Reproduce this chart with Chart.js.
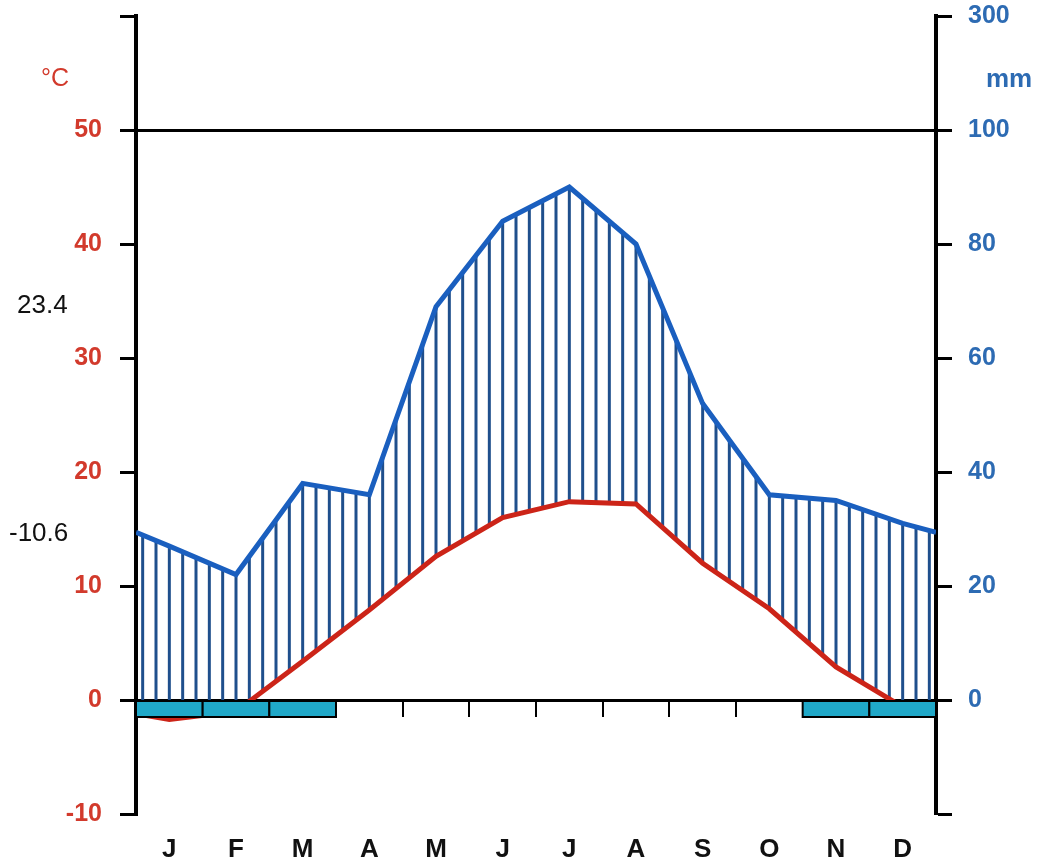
<!DOCTYPE html>
<html>
<head>
<meta charset="utf-8">
<script src="https://cdn.jsdelivr.net/npm/chart.js@4"></script>
<style>
html,body{margin:0;padding:0;background:#fff;}
canvas{display:block;}
</style>
</head>
<body>
<canvas id="c" width="1038" height="863"></canvas>
<script>
// ---- data ----
const months = ['J','F','M','A','M','J','J','A','S','O','N','D'];
const tempC = [-1.7, -1.0, 3.4, 7.9, 12.6, 16.0, 17.4, 17.2, 12.0, 8.0, 2.9, -0.6];
const precipMm = [27, 22, 38, 36, 69, 84, 90, 80, 52, 36, 35, 31];
const edgeTemp = -1.2;     // value drawn at the year's start/end edge
const edgePrecip = 29.4;
const frostMonths = [1, 1, 1, 0, 0, 0, 0, 0, 0, 0, 1, 1];
const tempTicks = [-10, 0, 10, 20, 30, 40, 50, 60];
const tempTickLabels = ['-10', '0', '10', '20', '30', '40', '50', ''];
const precipTicks = [-20, 0, 20, 40, 60, 80, 100, 120];
const precipTickLabels = ['', '0', '20', '40', '60', '80', '100', '300'];
const tempUnit = '°C';
const precipUnit = 'mm';
const sideLabels = ['23.4', '-10.6'];

// ---- styles ----
const RED = '#cc2418', BLUE = '#1a5fbf', HATCH = '#1f4f8c', CYAN = '#20a8c8';
const RED_TXT = '#d23a2c', BLUE_TXT = '#2d6bb3';
const FONT = '"Liberation Sans", Arial, sans-serif';

function series(vals, edge) {
  const pts = [{x: 0, y: edge}];
  vals.forEach((v, i) => pts.push({x: i + 0.5, y: v}));
  pts.push({x: 12, y: edge});
  return pts;
}
const tempPts = series(tempC, edgeTemp);
const precipPts = series(precipMm, edgePrecip);

function interp(pts, x) {
  for (let i = 0; i < pts.length - 1; i++) {
    const a = pts[i], b = pts[i + 1];
    if (x >= a.x && x <= b.x) return a.y + (b.y - a.y) * (x - a.x) / (b.x - a.x);
  }
  return pts[pts.length - 1].y;
}

const hatchPlugin = {
  id: 'hatch',
  beforeDatasetsDraw(chart) {
    const {ctx, scales: {x, y, y2}} = chart;
    ctx.save();
    ctx.strokeStyle = HATCH;
    ctx.lineWidth = 3;
    for (let k = 0; k < 60; k++) {
      const xv = (k + 0.5) / 5;
      const t = Math.max(interp(tempPts, xv), 0);
      const p = interp(precipPts, xv);
      const px = x.getPixelForValue(xv);
      const yLow = y.getPixelForValue(t);
      const yHigh = y2.getPixelForValue(p);
      if (yHigh < yLow) {
        ctx.beginPath();
        ctx.moveTo(px, yLow);
        ctx.lineTo(px, yHigh);
        ctx.stroke();
      }
    }
    ctx.restore();
  },
  afterDatasetsDraw(chart) {
    const {ctx, scales: {x, y}} = chart;
    const y0 = y.getPixelForValue(0);
    const h = 17;
    ctx.save();
    // month boundary ticks
    ctx.strokeStyle = '#000';
    ctx.lineWidth = 2;
    for (let m = 1; m < 12; m++) {
      const px = Math.round(x.getPixelForValue(m));
      ctx.beginPath();
      ctx.moveTo(px, y0);
      ctx.lineTo(px, y0 + h);
      ctx.stroke();
    }
    // frost boxes
    frostMonths.forEach((f, i) => {
      if (!f) return;
      const x1 = x.getPixelForValue(i), x2 = x.getPixelForValue(i + 1);
      ctx.fillStyle = CYAN;
      ctx.fillRect(x1, y0 + 1, x2 - x1, h - 1);
      ctx.strokeStyle = '#000';
      ctx.lineWidth = 2;
      ctx.strokeRect(x1, y0 + 1, x2 - x1, h - 1);
    });
    ctx.restore();
  },
  afterDraw(chart) {
    const {ctx} = chart;
    ctx.save();
    ctx.textBaseline = 'middle';
    ctx.textAlign = 'center';
    ctx.fillStyle = RED_TXT;
    ctx.font = '25px ' + FONT;
    ctx.fillText(tempUnit, 55, 79);
    ctx.fillStyle = BLUE_TXT;
    ctx.font = 'bold 26px ' + FONT;
    ctx.fillText(precipUnit, 1009, 80);
    ctx.fillStyle = '#111';
    ctx.font = '26px ' + FONT;
    ctx.textAlign = 'left';
    ctx.fillText(sideLabels[0], 17, 306);
    ctx.fillText(sideLabels[1], 9, 534);
    ctx.restore();
  }
};

function fixV(w) {
  return function (s) { s.width = w; s.paddingTop = 0; s.paddingBottom = 0; };
}

new Chart(document.getElementById('c'), {
  type: 'line',
  data: {
    datasets: [
      {
        label: 'Temperature',
        data: tempPts,
        yAxisID: 'y',
        borderColor: RED,
        borderWidth: 5,
        pointRadius: 0,
        tension: 0,
        fill: false
      },
      {
        label: 'Precipitation',
        data: precipPts,
        yAxisID: 'y2',
        borderColor: BLUE,
        borderWidth: 5,
        pointRadius: 0,
        tension: 0,
        fill: false
      }
    ]
  },
  options: {
    responsive: false,
    animation: false,
    devicePixelRatio: 1,
    layout: {autoPadding: false, padding: {top: 16, left: 0, right: 0, bottom: 0}},
    plugins: {legend: {display: false}, tooltip: {enabled: false}},
    scales: {
      x: {
        type: 'linear',
        min: 0, max: 12,
        afterBuildTicks(s) { s.ticks = months.map((m, i) => ({value: i + 0.5})); },
        afterFit(s) { s.height = 49; s.paddingLeft = 0; s.paddingRight = 0; },
        border: {display: false},
        grid: {display: false, drawTicks: false},
        ticks: {
          autoSkip: false, maxRotation: 0,
          padding: 20,
          color: '#111',
          font: {family: FONT, size: 26, weight: 'bold'},
          callback: (v, i) => months[i]
        }
      },
      y: {
        type: 'linear',
        position: 'left',
        min: -10, max: 60,
        afterBuildTicks(s) { s.ticks = tempTicks.map(v => ({value: v})); },
        afterFit: fixV(136),
        border: {display: true, color: '#000', width: 4},
        grid: {
          color: c => (c.tick && (c.tick.value === 0 || c.tick.value === 50)) ? '#000' : 'rgba(0,0,0,0)',
          lineWidth: 3,
          tickColor: '#000',
          tickWidth: 3,
          tickLength: 16,
          drawTicks: true
        },
        ticks: {
          padding: 18,
          color: RED_TXT,
          font: {family: FONT, size: 25, weight: 'bold'},
          callback: (v) => tempTickLabels[tempTicks.indexOf(v)]
        }
      },
      y2: {
        type: 'linear',
        position: 'right',
        min: -20, max: 120,
        afterBuildTicks(s) { s.ticks = precipTicks.map(v => ({value: v})); },
        afterFit: fixV(102),
        border: {display: true, color: '#000', width: 4},
        grid: {
          drawOnChartArea: false,
          tickColor: '#000',
          tickWidth: 3,
          tickLength: 16,
          drawTicks: true
        },
        ticks: {
          padding: 16,
          color: BLUE_TXT,
          font: {family: FONT, size: 25, weight: 'bold'},
          callback: (v) => precipTickLabels[precipTicks.indexOf(v)]
        }
      }
    }
  },
  plugins: [hatchPlugin]
});
</script>
</body>
</html>
